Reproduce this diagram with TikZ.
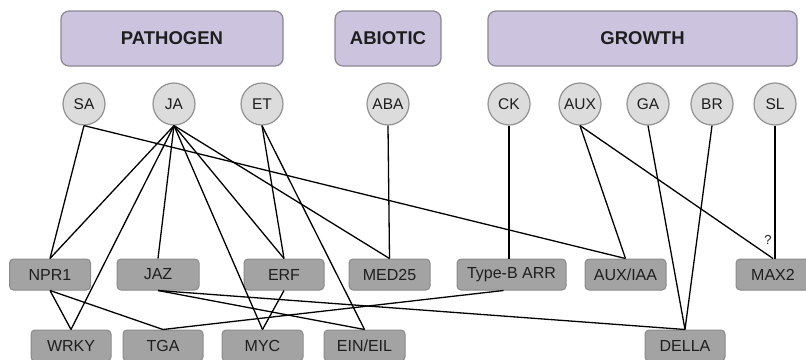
\documentclass[tikz,border=0pt]{standalone}
\usepackage{fontspec}
\setmainfont{Liberation Sans}
\definecolor{lav}{HTML}{CCC3DF}
\definecolor{lavb}{HTML}{8A8692}
\definecolor{circf}{HTML}{DCDCDC}
\definecolor{circb}{HTML}{929292}
\definecolor{boxf}{HTML}{A3A3A3}
\definecolor{boxb}{HTML}{8A8A8A}
\definecolor{txt}{HTML}{1E1E1E}
\begin{document}
\begin{tikzpicture}[x=1pt,y=-1pt,
  cat/.style={draw=lavb,fill=lav,line width=1.2pt,rounded corners=8pt,minimum height=55pt,inner sep=0pt,text=txt,font=\fontsize{18.5}{21}\selectfont\bfseries},
  horm/.style={circle,draw=circb,fill=circf,line width=1.2pt,minimum size=42pt,inner sep=0pt,text=txt,font=\fontsize{15.5}{18}\selectfont},
  gene/.style={draw=boxb,fill=boxf,line width=1pt,rounded corners=4pt,minimum height=31pt,inner sep=0pt,text=txt,font=\fontsize{16}{18}\selectfont},
  link/.style={black,line width=1.3pt}]
\useasboundingbox (0,0) rectangle (806,359);
% categories
\node[cat,minimum width=222pt] (path) at (172,38.5) {PATHOGEN};
\node[cat,minimum width=106pt] (abio) at (388,38.5) {ABIOTIC};
\node[cat,minimum width=309pt] (grow) at (642.5,38.5) {GROWTH};
% hormones
\node[horm] (sa) at (84,104) {SA};
\node[horm] (ja) at (174,104) {JA};
\node[horm] (et) at (262,104) {ET};
\node[horm] (aba) at (388,104) {ABA};
\node[horm] (ck) at (509,104) {CK};
\node[horm] (aux) at (580,104) {AUX};
\node[horm] (ga) at (648,104) {GA};
\node[horm] (br) at (712,104) {BR};
\node[horm] (sl) at (775,104) {SL};
% row 1
\node[gene,minimum width=81pt] (npr) at (50,274.5) {NPR1};
\node[gene,minimum width=82pt] (jaz) at (158,274.5) {JAZ};
\node[gene,minimum width=80pt] (erf) at (284,274.5) {ERF};
\node[gene,minimum width=81pt] (med) at (389.5,274.5) {MED25};
\node[gene,minimum width=109pt] (arr) at (511.5,274.5) {Type-B ARR};
\node[gene,minimum width=81pt] (iaa) at (625.5,274.5) {AUX/IAA};
\node[gene,minimum width=74pt] (max) at (773,274.5) {MAX2};
% row 2
\node[gene,minimum width=80pt] (wrky) at (71,345.5) {WRKY};
\node[gene,minimum width=80pt] (tga) at (163,345.5) {TGA};
\node[gene,minimum width=81pt] (myc) at (262.5,345.5) {MYC};
\node[gene,minimum width=81pt] (ein) at (364.5,345.5) {EIN/EIL};
\node[gene,minimum width=80pt] (della) at (685,345.5) {DELLA};
% links
\draw[link] (sa.south) -- (npr.north);
\draw[link] (sa.south) -- (iaa.north);
\draw[link] (ja.south) -- (npr.north);
\draw[link] (ja.south) -- (wrky.north);
\draw[link] (ja.south) -- (jaz.north);
\draw[link] (ja.south) -- (myc.north);
\draw[link] (ja.south) -- (erf.north);
\draw[link] (ja.south) -- (med.north);
\draw[link] (et.south) -- (erf.north);
\draw[link] (et.south) -- (ein.north);
\draw[link] (aba.south) -- (med.north);
\draw[link] (ck.south) -- (arr.north -| ck.south);
\draw[link] (aux.south) -- (iaa.north);
\draw[link] (aux.south) -- (max.north);
\draw[link] (ga.south) -- (della.north);
\draw[link] (br.south) -- (della.north);
\draw[link] (sl.south) -- (max.north -| sl.south);
\draw[link] (npr.south) -- (wrky.north);
\draw[link] (npr.south) -- (tga.north);
\draw[link] (jaz.south) -- (ein.north);
\draw[link] (jaz.south) -- (della.north);
\draw[link] (erf.south) -- (myc.north);
\draw[link] ([xshift=-8pt]arr.south) -- (tga.north);
\node[text=txt,font=\fontsize{13}{15}\selectfont,inner sep=0pt] (q) at (768,240) {?};
\end{tikzpicture}
\end{document}
